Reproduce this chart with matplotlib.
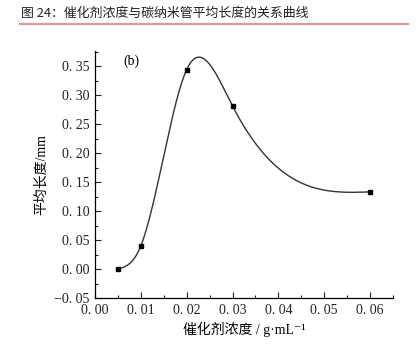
import numpy as np
import matplotlib.pyplot as plt
from matplotlib.ticker import MultipleLocator

plt.rcParams['font.family'] = ['Liberation Serif', 'Noto Sans CJK SC', 'DejaVu Serif']

# data
conc = [0.005, 0.01, 0.02, 0.03, 0.06]
length = [0.0, 0.04, 0.344, 0.281, 0.133]
xticks = [0.00, 0.01, 0.02, 0.03, 0.04, 0.05, 0.06]
yticks = [-0.05, 0.00, 0.05, 0.10, 0.15, 0.20, 0.25, 0.30, 0.35]


# natural cubic spline, like Origin's spline connection
def spline(x, y, n=300):
    x = np.asarray(x, float)
    y = np.asarray(y, float)
    k = len(x)
    h = np.diff(x)
    A = np.zeros((k, k))
    b = np.zeros(k)
    A[0, 0] = A[-1, -1] = 1
    for i in range(1, k - 1):
        A[i, i - 1] = h[i - 1]
        A[i, i] = 2 * (h[i - 1] + h[i])
        A[i, i + 1] = h[i]
        b[i] = 6 * ((y[i + 1] - y[i]) / h[i] - (y[i] - y[i - 1]) / h[i - 1])
    M = np.linalg.solve(A, b)
    xs = np.linspace(x[0], x[-1], n)
    idx = np.clip(np.searchsorted(x, xs) - 1, 0, k - 2)
    x0, x1 = x[idx], x[idx + 1]
    hh = x1 - x0
    t0, t1 = x1 - xs, xs - x0
    ys = (M[idx] * t0**3 + M[idx + 1] * t1**3) / (6 * hh) \
        + (y[idx] / hh - M[idx] * hh / 6) * t0 \
        + (y[idx + 1] / hh - M[idx + 1] * hh / 6) * t1
    return xs, ys


fig = plt.figure(figsize=(4.18, 3.64), dpi=100)
ax = fig.add_axes([0.2273, 0.1813, 0.7129, 0.6787])

xs, ys = spline(conc, length)
ax.plot(xs, ys, color='#333333', lw=1.0)
ax.plot(conc, length, 's', color='black', ms=3.5)

ax.set_xlim(0, 0.065)
ax.set_ylim(-0.05, 0.376)
ax.spines['top'].set_visible(False)
ax.spines['right'].set_visible(False)
ax.spines['left'].set_linewidth(0.9)
ax.spines['bottom'].set_linewidth(0.9)

ax.set_xticks(xticks)
ax.set_xticklabels([f'{v:.2f}'.replace('.', '. ') for v in xticks])
ax.set_yticks(yticks)
ax.set_yticklabels([('\u2212' if v < 0 else '') + f'{abs(v):.2f}'.replace('.', '. ') for v in yticks])
ax.xaxis.set_minor_locator(MultipleLocator(0.005))
ax.yaxis.set_minor_locator(MultipleLocator(0.025))
ax.tick_params(which='both', direction='in', labelsize=10, colors='#222222')
ax.tick_params(which='major', length=4, width=0.8)
ax.tick_params(which='minor', length=2.5, width=0.8)
ax.tick_params(axis='y', pad=4)
ax.tick_params(axis='x', pad=4)

ax.set_ylabel('平均长度/mm', fontsize=10, labelpad=4)
ax.set_xlabel('催化剂浓度 / g·mL⁻¹', fontsize=10, labelpad=4)

ax.text(0.094, 0.96, '(b)', transform=ax.transAxes, fontsize=10, va='center')

# figure caption with red rule
fig.text(21 / 418, 1 - 13 / 364, '图 24：催化剂浓度与碳纳米管平均长度的关系曲线',
         family=['Noto Sans CJK SC'], fontsize=9.3, color='#222222', va='center')
fig.add_artist(plt.Line2D([20 / 418, 408 / 418], [1 - 23.5 / 364] * 2,
                          color='#e29898', lw=1.6, transform=fig.transFigure))

fig.savefig('out.png', dpi=100)
